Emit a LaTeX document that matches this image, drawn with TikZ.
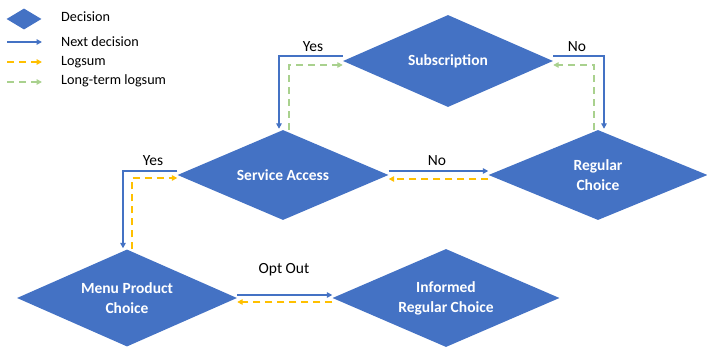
\documentclass[tikz,border=0pt]{standalone}
\usepackage{fontspec}
\setmainfont{Carlito}
\usetikzlibrary{shapes.geometric,arrows.meta}
\definecolor{dblue}{HTML}{4472C4}
\definecolor{lyellow}{HTML}{FFC000}
\definecolor{lgreen}{HTML}{A9D18E}
\tikzset{
  decision/.style={shape=diamond, fill=dblue, draw=none, inner sep=0pt, aspect=2.3,
    text=white, font=\fontsize{15.5}{20}\selectfont\bfseries, align=center},
  nextarr/.style={draw=dblue, line width=1.8pt, -{Triangle[length=5.5pt,width=5.5pt]}},
  logarr/.style={draw=lyellow, line width=1.8pt, dash pattern=on 7pt off 5pt, -{Triangle[length=5.5pt,width=5.5pt]}},
  ltarr/.style={draw=lgreen, line width=1.8pt, dash pattern=on 7pt off 5pt, -{Triangle[length=5.5pt,width=5.5pt]}},
  lbl/.style={font=\fontsize{15.5}{17}\selectfont, text=black, inner sep=0pt},
  legtext/.style={font=\fontsize{14.2}{16}\selectfont, text=black, anchor=west, inner sep=0pt}
}
\begin{document}
\begin{tikzpicture}[x=1pt,y=-1pt]
\useasboundingbox (0,0) rectangle (707,347);
% legend
\node[decision, minimum width=35pt, minimum height=21pt] (legd) at (24,19) {};
\node[legtext] (legt1) at (61,17) {Decision};
\coordinate (lb1) at (7,42); \coordinate (lb2) at (42,42);
\draw[nextarr] (lb1) -- (lb2);
\node[legtext] (legt2) at (61,42) {Next decision};
\coordinate (ly1) at (7,62); \coordinate (ly2) at (42,62);
\draw[logarr] (ly1) -- (ly2);
\node[legtext] (legt3) at (61,62) {Logsum};
\coordinate (lg1) at (7,82); \coordinate (lg2) at (42,82);
\draw[ltarr] (lg1) -- (lg2);
\node[legtext] (legt4) at (61,81) {Long-term logsum};
% decisions
\node[decision, minimum width=210pt, minimum height=92pt] (sub) at (448,61) {Subscription};
\node[decision, minimum width=211pt, minimum height=90pt] (sa) at (283,175) {Service Access};
\node[decision, minimum width=219pt, minimum height=90pt] (rc) at (598,175) {Regular\\Choice};
\node[decision, minimum width=220pt, minimum height=97pt] (mpc) at (127,298) {Menu Product\\Choice};
\node[decision, minimum width=227pt, minimum height=98pt] (irc) at (446,298) {Informed\\Regular Choice};
% connectors
\draw[nextarr, shorten >=1pt] ([yshift=5pt]sub.west) -| ([xshift=-4pt]sa.north);
\draw[ltarr] ([xshift=6pt]sa.north) |- ([yshift=-4pt]sub.west);
\draw[nextarr, shorten >=1pt] ([yshift=5pt]sub.east) -| ([xshift=6pt]rc.north);
\draw[ltarr] ([xshift=-4pt]rc.north) |- ([yshift=-4pt]sub.east);
\draw[nextarr, shorten >=1pt] ([yshift=4pt]sa.west) -| ([xshift=-4pt]mpc.north);
\draw[logarr] ([xshift=5pt]mpc.north) |- ([yshift=-3pt]sa.west);
\draw[nextarr] ([yshift=4pt]sa.east) -- ([yshift=4pt]rc.west);
\draw[logarr] ([yshift=-4pt]rc.west) -- ([yshift=-4pt]sa.east);
\draw[nextarr] ([yshift=3pt]mpc.east) -- ([yshift=3pt]irc.west);
\draw[logarr] ([yshift=-4pt]irc.west) -- ([yshift=-4pt]mpc.east);
% labels
\node[lbl] (l1) at (313,47) {Yes};
\node[lbl] (l2) at (577,47) {No};
\node[lbl] (l3) at (153,161) {Yes};
\node[lbl] (l4) at (437,161) {No};
\node[lbl] (l5) at (284,270) {Opt Out};
\end{tikzpicture}
\end{document}
